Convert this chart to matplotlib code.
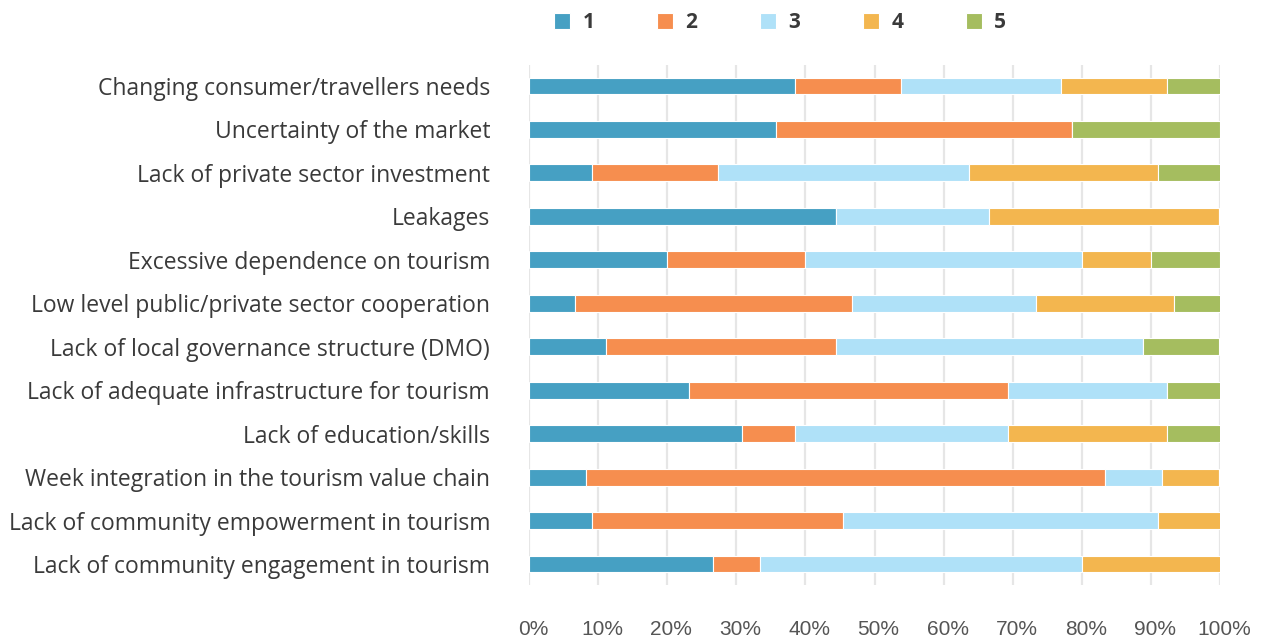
import matplotlib
matplotlib.use("Agg")
import matplotlib.pyplot as plt
import matplotlib.transforms as mtransforms
import numpy as np

categories = [
    "Changing consumer/travellers needs",
    "Uncertainty of the market",
    "Lack of private sector investment",
    "Leakages",
    "Excessive dependence on tourism",
    "Low level public/private sector cooperation",
    "Lack of local governance structure (DMO)",
    "Lack of adequate infrastructure for tourism",
    "Lack of education/skills",
    "Week integration in the tourism value chain",
    "Lack of community empowerment in tourism",
    "Lack of community engagement in tourism",
]

series_names = ["1", "2", "3", "4", "5"]

score_1 = [38.5, 35.7, 9.1, 44.4, 20.0, 6.7, 11.1, 23.1, 30.8, 8.3, 9.1, 26.7]
score_2 = [15.4, 42.9, 18.2, 0.0, 20.0, 40.0, 33.3, 46.2, 7.7, 75.0, 36.4, 6.7]
score_3 = [23.1, 0.0, 36.4, 22.2, 40.0, 26.7, 44.4, 23.1, 30.8, 8.3, 45.5, 46.7]
score_4 = [15.4, 0.0, 27.3, 33.3, 10.0, 20.0, 0.0, 0.0, 23.1, 8.3, 9.1, 20.0]
score_5 = [7.7, 21.4, 9.1, 0.0, 10.0, 6.7, 11.1, 7.7, 7.7, 0.0, 0.0, 0.0]

x_ticks = [0, 10, 20, 30, 40, 50, 60, 70, 80, 90, 100]

colors = ["#46A0C3", "#F68E4F", "#AFE1F8", "#F3B64F", "#A5BD5F"]

plt.rcParams["font.family"] = ["Open Sans", "DejaVu Sans"]

W, H = 1272, 641
fig = plt.figure(figsize=(W / 100, H / 100), dpi=100)
left, right, top, bottom = 529, 1220, 65, 585
ax = fig.add_axes([left / W, 1 - bottom / H, (right - left) / W, (bottom - top) / H])

series = [score_1, score_2, score_3, score_4, score_5]
y = np.arange(len(categories))
base = np.zeros(len(categories))
handles = []
for name, vals, col in zip(series_names, series, colors):
    vals = np.array(vals, dtype=float)
    b = ax.barh(y, vals, left=base, height=0.39, color=col,
                edgecolor="white", linewidth=0.8, label=name, zorder=3)
    handles.append(b)
    base += vals

ax.set_xlim(0, 100)
ax.set_ylim(len(categories) - 0.517, -0.483)
ax.set_yticks(y)
ax.set_yticklabels(categories, fontsize=16.5, color="#3a3a3a")
ax.set_xticks(x_ticks)
ax.set_xticklabels([f"{t}%" for t in x_ticks], fontsize=15, color="#555555",
                   family=["Liberation Sans", "DejaVu Sans"])
ax.tick_params(axis="y", length=0, pad=28)
ax.tick_params(axis="x", length=0, pad=25)
shift = mtransforms.ScaledTranslation(4 / 100, 0, fig.dpi_scale_trans)
for lbl in ax.get_xticklabels():
    lbl.set_transform(lbl.get_transform() + shift)
ax.grid(axis="x", color="#E6E6E6", linewidth=1.6, zorder=0)
for s in ax.spines.values():
    s.set_visible(False)

leg = fig.legend(handles=handles, labels=series_names, loc="center",
                 bbox_to_anchor=(780 / W, 1 - 23 / H), ncol=5, frameon=False,
                 handlelength=0.77, handleheight=0.77, handletextpad=0.6,
                 columnspacing=3.0, prop={"size": 15, "weight": "bold"})
for t in leg.get_texts():
    t.set_color("#3a3a3a")

fig.savefig("out.png", dpi=100, facecolor="white")
